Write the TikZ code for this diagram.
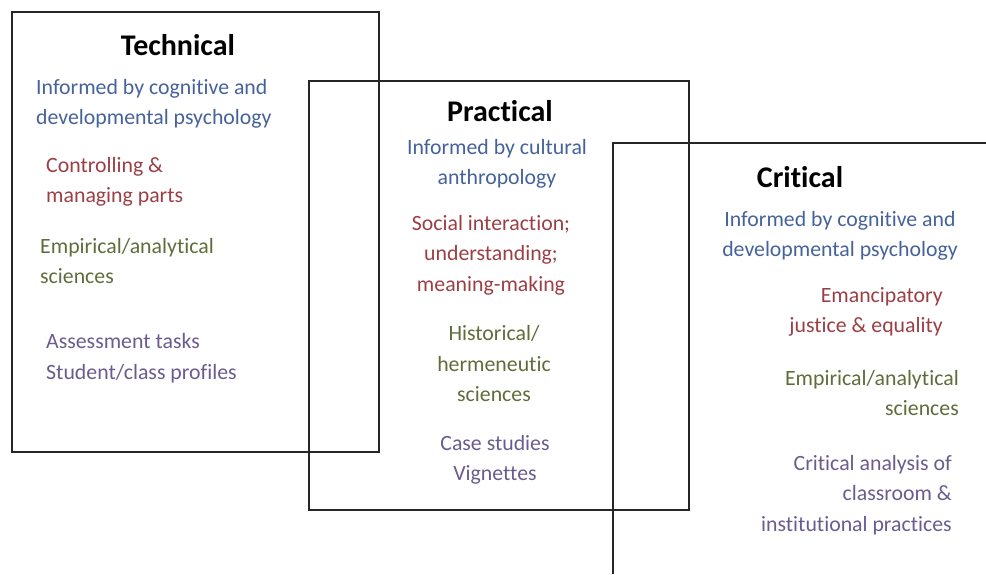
\documentclass[tikz,border=0pt]{standalone}
\usepackage{fontspec}
\setmainfont{Carlito}[Ligatures=NoCommon]
\usetikzlibrary{positioning}
\definecolor{infoblue}{RGB}{70,98,154}
\definecolor{aimred}{RGB}{155,63,69}
\definecolor{scigreen}{RGB}{96,108,58}
\definecolor{toolpurple}{RGB}{106,92,142}

\begin{document}
\begin{tikzpicture}[x=1pt,y=-1pt,
  frame/.style={line width=1.8pt,black!85},
  head/.style={inner sep=0pt,font=\fontsize{30}{34}\selectfont\bfseries},
  txt/.style={inner sep=0pt,font=\fontsize{21.8}{30.5}\selectfont},
  info/.style={txt,text=infoblue},
  aim/.style={txt,text=aimred},
  sci/.style={txt,text=scigreen},
  tool/.style={txt,text=toolpurple}]
\useasboundingbox (0,0) rectangle (986,574);
% the three frames
\draw[frame] (12,12) rectangle (379,452);
\draw[frame] (309,81) rectangle (689,510);
\draw[frame] (986,143) -- (613,143) -- (613,574);

% technical
\node[head] (tech) at (178,45) {Technical};
\node[info,anchor=west,align=left] (techInfo) at (36,104) {Informed by cognitive and\\developmental psychology};
\node[aim,anchor=west,align=left] (techAim) at (46,182) {Controlling \&\\managing parts};
\node[sci,anchor=west,align=left] (techSci) at (40,261) {Empirical/analytical\\sciences};
\node[tool,anchor=west,align=left] (techTool) at (46,358) {Assessment tasks\\Student/class profiles};

% practical
\node[head] (prac) at (500,111) {Practical};
\node[info,align=center] (pracInfo) at (497,164) {Informed by cultural\\anthropology};
\node[aim,align=center] (pracAim) at (491,255) {Social interaction;\\understanding;\\meaning-making};
\node[sci,align=center] (pracSci) at (494,364) {Historical/\\hermeneutic\\sciences};
\node[tool,align=center] (pracTool) at (495,460) {Case studies\\Vignettes};

% critical
\node[head] (crit) at (800,177) {Critical};
\node[info,align=center] (critInfo) at (840,236) {Informed by cognitive and\\developmental psychology};
\node[aim,anchor=east,align=right] (critAim) at (943,312) {Emancipatory\\justice \& equality};
\node[sci,anchor=east,align=right] (critSci) at (959,393) {Empirical/analytical\\sciences};
\node[tool,anchor=east,align=right] (critTool) at (952,495) {Critical analysis of\\classroom \&\\institutional practices};
\end{tikzpicture}
\end{document}
